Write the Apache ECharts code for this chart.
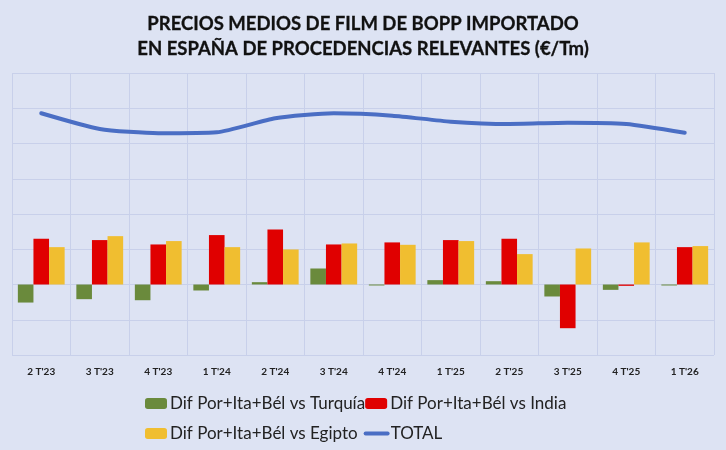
<!DOCTYPE html>
<html>
<head>
<meta charset="utf-8">
<script src="https://cdn.jsdelivr.net/npm/echarts@6/dist/echarts.min.js"></script>
<style>
  html, body { margin: 0; padding: 0; background: #dde3f3; }
  #chart { width: 726px; height: 450px; }
</style>
</head>
<body>
<div id="chart"></div>
<script>
// trimestres
let quarters = ["2 T'23", "3 T'23", "4 T'23", "1 T'24", "2 T'24", "3 T'24", "4 T'24", "1 T'25", "2 T'25", "3 T'25", "4 T'25", "1 T'26"];

// diferencias (€/Tm)
let difTurquia = [-256, -208, -223, -85, 33, 227, -14, 62, 47, -170, -76, -14];
let difIndia = [649, 630, 568, 701, 781, 568, 597, 630, 649, -620, -19, 530];
let difEgipto = [530, 686, 616, 530, 497, 582, 563, 616, 431, 511, 597, 545];
let total = [2429, 2206, 2145, 2159, 2358, 2429, 2395, 2310, 2277, 2295, 2277, 2153];

let chart = echarts.init(document.getElementById('chart'));

let gridColor = '#c8d0ea';
let fontName = 'Lato';

chart.setOption({
    backgroundColor: '#dde3f3',
    title: {
        text: 'PRECIOS MEDIOS DE FILM DE BOPP IMPORTADO\nEN ESPAÑA DE PROCEDENCIAS RELEVANTES (€/Tm)',
        left: 'center',
        top: 7,
        textStyle: {
            fontFamily: fontName,
            fontWeight: 'bold',
            fontSize: 18.5,
            lineHeight: 25,
            color: '#111',
            textBorderColor: '#111',
            textBorderWidth: 0.3
        }
    },
    legend: [{
        left: 140,
        top: 390,
        itemWidth: 22,
        itemHeight: 11,
        itemGap: 0,
        textStyle: { fontFamily: fontName, fontSize: 17, color: '#222', padding: [0, 0, 0, -2] },
        data: ['Dif Por+Ita+Bél vs Turquía', 'Dif Por+Ita+Bél vs India']
    }, {
        left: 140,
        top: 420,
        itemWidth: 22,
        itemHeight: 11,
        itemGap: 6,
        textStyle: { fontFamily: fontName, fontSize: 17, color: '#222', padding: [0, 0, 0, -2] },
        data: ['Dif Por+Ita+Bél vs Egipto', { name: 'TOTAL', itemStyle: { opacity: 0 }, lineStyle: { width: 4, cap: 'round' } }]
    }],
    grid: {
        left: 12,
        right: 12,
        top: 73,
        bottom: 95
    },
    xAxis: {
        type: 'category',
        data: quarters,
        position: 'bottom',
        axisLine: { show: false },
        axisTick: { show: false },
        axisLabel: {
            fontFamily: fontName,
            fontSize: 10,
            fontWeight: 'bold',
            color: '#222',
            margin: 12,
            interval: 0
        },
        splitLine: { show: true, interval: 0, lineStyle: { color: gridColor, width: 1 } }
    },
    yAxis: {
        type: 'value',
        min: -1000,
        max: 3000,
        interval: 500,
        axisLabel: { show: false },
        axisLine: { show: false },
        axisTick: { show: false },
        splitLine: { lineStyle: { color: gridColor, width: 1 } }
    },
    series: [{
        name: 'Dif Por+Ita+Bél vs Turquía',
        type: 'bar',
        data: difTurquia,
        barGap: '0%',
        barCategoryGap: '20%',
        itemStyle: { color: '#6a8a3c' }
    }, {
        name: 'Dif Por+Ita+Bél vs India',
        type: 'bar',
        data: difIndia,
        itemStyle: { color: '#e00000' }
    }, {
        name: 'Dif Por+Ita+Bél vs Egipto',
        type: 'bar',
        data: difEgipto,
        itemStyle: { color: '#f0be30' }
    }, {
        name: 'TOTAL',
        type: 'line',
        data: total,
        smooth: 0.2,
        symbol: 'none',
        z: 5,
        lineStyle: { color: '#4a6ec4', width: 4, cap: 'round' },
        itemStyle: { color: '#4a6ec4' }
    }]
});
</script>
</body>
</html>
